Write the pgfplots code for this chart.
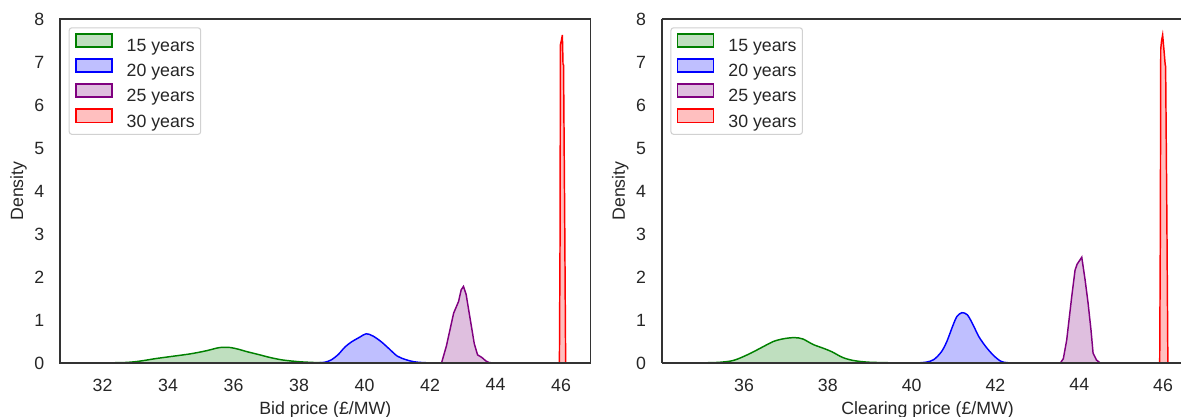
\documentclass[border=0pt]{standalone}
\usepackage{fontspec}
\setmainfont{Liberation Sans}
\usepackage{pgfplots}
\pgfplotsset{compat=1.18}
\definecolor{mgreen}{HTML}{008000}
\definecolor{mpurple}{HTML}{800080}
\definecolor{mblue}{HTML}{0000FF}
\definecolor{mred}{HTML}{FF0000}
\definecolor{tgray}{HTML}{262626}
\pgfplotsset{
  kdeaxis/.style={
    scale only axis, height=258pt, ymin=0, ymax=8, ytick={0,...,8},
    axis on top,
    axis line style={black!80, line width=1.4pt},
    major tick length=0pt, tick style={draw=none},
    font=\fontsize{13.3}{16}\selectfont,
    ticklabel style={font=\fontsize{13.3}{16}\selectfont, text=tgray},
    /pgf/number format/assume math mode=true,
    xticklabel style={yshift=-8.2pt},
    yticklabel style={xshift=-8.2pt},
    label style={font=\fontsize{13.3}{16}\selectfont, text=tgray},
    ylabel={Density},
    legend style={at={(axis description cs:0,1)}, anchor=north west, xshift=6.5pt, yshift=-6.2pt,
      draw=black!18, rounded corners=2pt, fill=white, line width=0.8pt,
      font=\fontsize{13.3}{16}\selectfont, text=tgray,
      inner xsep=4.5pt, inner ysep=4pt, row sep=3.2pt,
      nodes={inner sep=0pt},
      /tikz/every odd column/.style={column sep=10.5pt}},
    legend cell align=left,
    legend image code/.code={\draw[#1, sharp corners] (0pt,-0.35pt) rectangle (27pt,9.65pt);},
    every axis plot/.append style={line width=1.1pt, fill opacity=0.25},
  }
}
\begin{document}
\begin{tikzpicture}
\useasboundingbox (-45pt,-40.5pt) rectangle (841.5pt,272.25pt);
\begin{axis}[kdeaxis, at={(0pt,0pt)}, anchor=south west,
  width=397.9pt, xmin=30.7, xmax=46.9, xtick={32,34,...,46},
  xlabel={Bid price (£/MW)},
  xlabel style={at={(axis description cs:0.5,-0.1483)}, anchor=base},
  ylabel style={at={(axis description cs:-0.0782,0.5)}, anchor=center}]
\addplot[draw=mgreen, fill=mgreen, smooth, tension=0.5] coordinates {
(31.5,0) (32.2,0.004) (32.7,0.012) (33.0,0.03) (33.3,0.062) (33.6,0.10) (34.1,0.152) (34.7,0.215) (35.2,0.29) (35.45,0.34) (35.65,0.365) (35.9,0.36) (36.15,0.32) (36.4,0.265) (36.8,0.19) (37.1,0.13) (37.5,0.07) (38.0,0.03) (38.5,0.01) (39.0,0.002) (39.5,0)} \closedcycle;
\addlegendentry{15 years}
\addplot[draw=mblue, fill=mblue, smooth, tension=0.5] coordinates {
(38.5,0) (38.8,0.02) (39.0,0.08) (39.2,0.2) (39.4,0.37) (39.6,0.49) (39.85,0.6) (40.05,0.68) (40.25,0.63) (40.5,0.5) (40.75,0.33) (41.0,0.16) (41.25,0.08) (41.5,0.03) (41.8,0.008) (42.3,0)} \closedcycle;
\addlegendentry{20 years}
\addplot[draw=mpurple, fill=mpurple] coordinates {
(42.35,0) (42.5,0.4) (42.72,1.16) (42.87,1.43) (42.95,1.7) (43.02,1.78) (43.1,1.6) (43.23,1.0) (43.35,0.45) (43.45,0.19) (43.58,0.13) (43.7,0.05) (43.8,0.01) (43.95,0)} \closedcycle;
\addlegendentry{25 years}
\addplot[draw=mred, fill=mred] coordinates {
(45.95,0) (45.97,3) (45.98,7.4) (46.01,7.5) (46.04,7.63) (46.06,6.95) (46.075,6.93) (46.08,6.5) (46.11,3.5) (46.14,0)} \closedcycle;
\addlegendentry{30 years}
\end{axis}
\begin{axis}[kdeaxis, at={(451.3pt,0pt)}, anchor=south west,
  width=389.5pt, xmin=34.036, xmax=46.43, xtick={36,38,...,46},
  axis y line*=left, axis x line*=box,
  xlabel={Clearing price (£/MW)},
  xlabel style={at={(axis description cs:0.512,-0.1483)}, anchor=base},
  ylabel style={at={(axis description cs:-0.0799,0.5)}, anchor=center}]
\addplot[draw=mgreen, fill=mgreen, smooth, tension=0.5] coordinates {
(34.5,0) (35.0,0.004) (35.4,0.015) (35.75,0.06) (36.1,0.2) (36.4,0.35) (36.7,0.5) (36.95,0.565) (37.2,0.59) (37.4,0.56) (37.65,0.43) (37.9,0.34) (38.1,0.26) (38.35,0.13) (38.6,0.06) (38.95,0.02) (39.5,0.005) (40.1,0)} \closedcycle;
\addlegendentry{15 years}
\addplot[draw=mblue, fill=mblue, smooth, tension=0.5] coordinates {
(40.1,0) (40.35,0.02) (40.53,0.08) (40.71,0.26) (40.84,0.5) (40.98,0.86) (41.08,1.08) (41.2,1.17) (41.33,1.12) (41.46,0.9) (41.6,0.62) (41.77,0.38) (41.95,0.18) (42.13,0.04) (42.3,0.006) (42.7,0.005) (42.9,0)} \closedcycle;
\addlegendentry{20 years}
\addplot[draw=mpurple, fill=mpurple] coordinates {
(43.55,0) (43.62,0.1) (43.7,0.53) (43.82,1.54) (43.9,2.16) (43.95,2.3) (44.02,2.4) (44.06,2.46) (44.14,1.93) (44.21,1.4) (44.28,0.77) (44.33,0.23) (44.41,0.07) (44.5,0)} \closedcycle;
\addlegendentry{25 years}
\addplot[draw=mred, fill=mred] coordinates {
(45.92,0) (45.935,3) (45.945,7.3) (45.965,7.5) (45.99,7.63) (46.02,7.3) (46.05,6.95) (46.06,6.9) (46.065,6.5) (46.09,3.5) (46.115,0)} \closedcycle;
\addlegendentry{30 years}
\end{axis}
\end{tikzpicture}
\end{document}
